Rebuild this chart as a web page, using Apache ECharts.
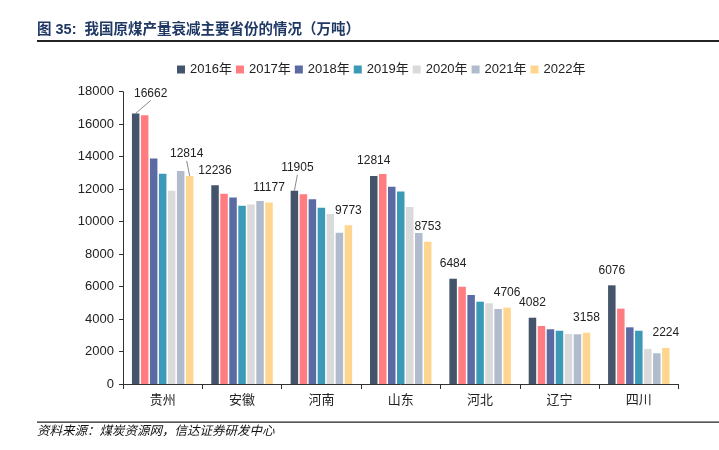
<!DOCTYPE html>
<html>
<head>
<meta charset="utf-8">
<script src="https://cdn.jsdelivr.net/npm/echarts@6/dist/echarts.min.js"></script>
<style>
html,body{margin:0;padding:0;background:#fff;}
#main{width:719px;height:450px;}
</style>
</head>
<body>
<div id="main"></div>
<script>
const categories = ['贵州','安徽','河南','山东','河北','辽宁','四川'];
const seriesNames = ['2016年','2017年','2018年','2019年','2020年','2021年','2022年'];
const v2016 = [16662, 12236, 11905, 12814, 6484, 4082, 6076];
const v2017 = [16550, 11720, 11680, 12930, 5990, 3570, 4640];
const v2018 = [13880, 11490, 11370, 12150, 5480, 3370, 3490];
const v2019 = [12950, 10980, 10860, 11860, 5070, 3280, 3280];
const v2020 = [11900, 11060, 10470, 10900, 4970, 3080, 2160];
const v2021 = [13120, 11270, 9320, 9300, 4620, 3060, 1890];
const v2022 = [12814, 11177, 9773, 8753, 4706, 3158, 2224];
const yTicks = [0, 2000, 4000, 6000, 8000, 10000, 12000, 14000, 16000, 18000];

const allValues = [v2016, v2017, v2018, v2019, v2020, v2021, v2022];
const colors = ['#44546A', '#FF7C80', '#5A6AA3', '#3C9AB8', '#DADADA', '#B0BCCD', '#FFD690'];
const labeledSeries = [0, 6];
const LABEL_DIST = 9;
const labelMoves = {
  '0-0': {dx: 15, dy: -5},
  '0-2': {dx: 3, dy: -8},
  '6-0': {dx: -3, dy: -7}
};

const FONT = '"Liberation Sans", Arial, "Noto Sans CJK SC", sans-serif';

const series = allValues.map((vals, si) => ({
  name: seriesNames[si],
  type: 'bar',
  barWidth: 7.5,
  barGap: '20%',
  itemStyle: {color: colors[si]},
  data: vals.slice(),
  label: {
    show: labeledSeries.indexOf(si) >= 0,
    position: 'top',
    distance: LABEL_DIST,
    color: '#222',
    fontSize: 12,
    fontFamily: FONT
  },
  labelLayout: function (p) {
    const m = labelMoves[si + '-' + p.dataIndex];
    return m ? {dx: m.dx, dy: m.dy} : {};
  },
  emphasis: {disabled: true},
  animation: false
}));

const staticGraphics = [
  {type: 'text', left: 37, top: 23, style: {text: '图 35:  我国原煤产量衰减主要省份的情况（万吨）', font: 'bold 14.5px ' + FONT, fill: '#1F3864'}},
  {type: 'rect', shape: {x: 37, y: 40, width: 682, height: 2}, style: {fill: '#222'}},
  {type: 'rect', shape: {x: 37, y: 421.5, width: 682, height: 1.2}, style: {fill: '#222'}},
  {type: 'text', left: 37, top: 425, style: {text: '资料来源：煤炭资源网，信达证券研发中心', font: 'italic 12.5px ' + FONT, fill: '#111'}}
];

const chart = echarts.init(document.getElementById('main'), null, {renderer: 'canvas'});
chart.setOption({
  animation: false,
  textStyle: {fontFamily: FONT},
  color: colors,
  legend: {
    data: seriesNames,
    left: 172,
    top: 58,
    itemWidth: 8,
    itemHeight: 8,
    itemGap: 4,
    icon: 'rect',
    textStyle: {fontSize: 13, color: '#222', fontFamily: FONT}
  },
  grid: {left: 123, right: 40.5, top: 91.7, bottom: 66, containLabel: false},
  xAxis: {
    type: 'category',
    data: categories,
    axisLine: {lineStyle: {color: '#333', width: 1}},
    axisTick: {show: true, length: 5, lineStyle: {color: '#333'}},
    axisLabel: {fontSize: 13, color: '#222', margin: 10, fontFamily: FONT}
  },
  yAxis: {
    type: 'value',
    min: yTicks[0],
    max: yTicks[yTicks.length - 1],
    interval: yTicks[1] - yTicks[0],
    axisLine: {show: true, lineStyle: {color: '#333', width: 1}},
    axisTick: {show: true, length: 4, lineStyle: {color: '#333'}},
    splitLine: {show: false},
    axisLabel: {fontSize: 13, color: '#222', margin: 9, fontFamily: FONT, formatter: v => String(v)}
  },
  graphic: staticGraphics,
  series: series
});

// leader lines from bar tops (library layout) to moved labels
const leaders = [];
Object.keys(labelMoves).forEach(key => {
  const [si, di] = key.split('-').map(Number);
  const m = labelMoves[key];
  let lay = null;
  try {
    lay = chart.getModel().getSeriesByIndex(si).getData().getItemLayout(di);
  } catch (e) { lay = null; }
  if (!lay) return;
  const cx = lay.x + lay.width / 2;
  const top = Math.min(lay.y, lay.y + lay.height);
  leaders.push({
    type: 'line',
    shape: {x1: cx, y1: top, x2: cx + m.dx, y2: top - LABEL_DIST + m.dy + 1},
    style: {stroke: '#8a8a8a', lineWidth: 1}
  });
});
chart.setOption({graphic: staticGraphics.concat(leaders)});
</script>
</body>
</html>
